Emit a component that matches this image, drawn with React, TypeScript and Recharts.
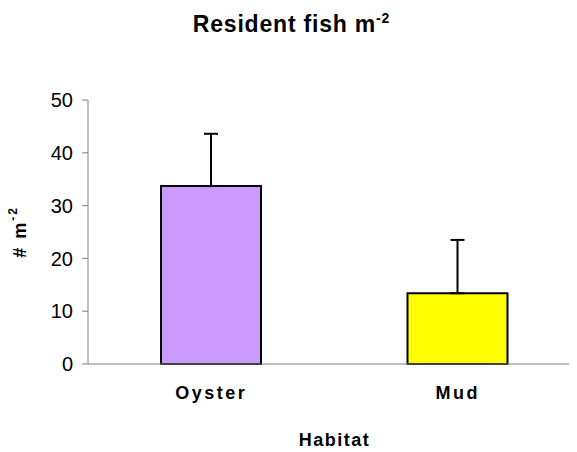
import React from 'react';
import { BarChart, Bar, XAxis, YAxis, ErrorBar, Cell, Label } from 'recharts';

const habitats = ['Oyster', 'Mud'];
const density = [33.7, 13.4];
const stdErr = [9.9, 10.1];
const barColors = ['#CC99FF', '#FFFF00'];
const yTicks = [0, 10, 20, 30, 40, 50];

const data = habitats.map((h, i) => ({ habitat: h, value: density[i], err: [0, stdErr[i]] }));

const font = 'Arial, "Liberation Sans", sans-serif';

const YLabel = (props: any) => {
    const { viewBox } = props;
    const cx = 20;
    const cy = viewBox.y + viewBox.height / 2;
    return (
        <text
            x={cx}
            y={cy}
            transform={`rotate(-90, ${cx}, ${cy})`}
            textAnchor="middle"
            dominantBaseline="central"
            fontFamily={font}
            fontWeight="bold"
            fontSize={18}
            letterSpacing={2}
            fill="#000"
        >
            # m<tspan dy={-7} fontSize={12}>-2</tspan>
        </text>
    );
};

const App: React.FC = () => {
    return (
        <div style={{ position: 'relative', width: 577, height: 452, overflow: 'hidden', marginLeft: -8, marginTop: -8, background: '#fff' }}>
            <div
                style={{
                    position: 'absolute',
                    top: 10,
                    left: 3,
                    width: 577,
                    textAlign: 'center',
                    fontFamily: font,
                    fontWeight: 'bold',
                    fontSize: 23,
                    letterSpacing: 0.8,
                    color: '#000',
                }}
            >
                Resident fish m<sup style={{ fontSize: 14 }}>-2</sup>
            </div>
            <BarChart
                width={600}
                height={452}
                data={data}
                margin={{ top: 100, right: 19, left: 28, bottom: 0 }}
                barCategoryGap="30%"
            >
                <XAxis
                    dataKey="habitat"
                    tickLine={false}
                    stroke="#808080"
                    tick={{ fill: '#000', fontFamily: font, fontWeight: 'bold', fontSize: 18, letterSpacing: 2.5 }}
                    tickMargin={16}
                    height={88}
                >
                    <Label
                        value="Habitat"
                        position="insideBottom"
                        offset={6}
                        style={{ fill: '#000', fontFamily: font, fontWeight: 'bold', fontSize: 18, letterSpacing: 1.5 }}
                    />
                </XAxis>
                <YAxis
                    domain={[0, 50]}
                    ticks={yTicks}
                    width={60}
                    stroke="#808080"
                    tickSize={6}
                    tick={{ fill: '#000', fontFamily: font, fontSize: 20 }}
                    tickMargin={9}
                    label={<YLabel />}
                />
                <Bar dataKey="value" barSize={100} stroke="#000" strokeWidth={2} isAnimationActive={false}>
                    {data.map((d, i) => (
                        <Cell key={d.habitat} fill={barColors[i]} />
                    ))}
                    <ErrorBar dataKey="err" width={7} stroke="#000" strokeWidth={2} direction="y" />
                </Bar>
            </BarChart>
        </div>
    );
};

export default App;
